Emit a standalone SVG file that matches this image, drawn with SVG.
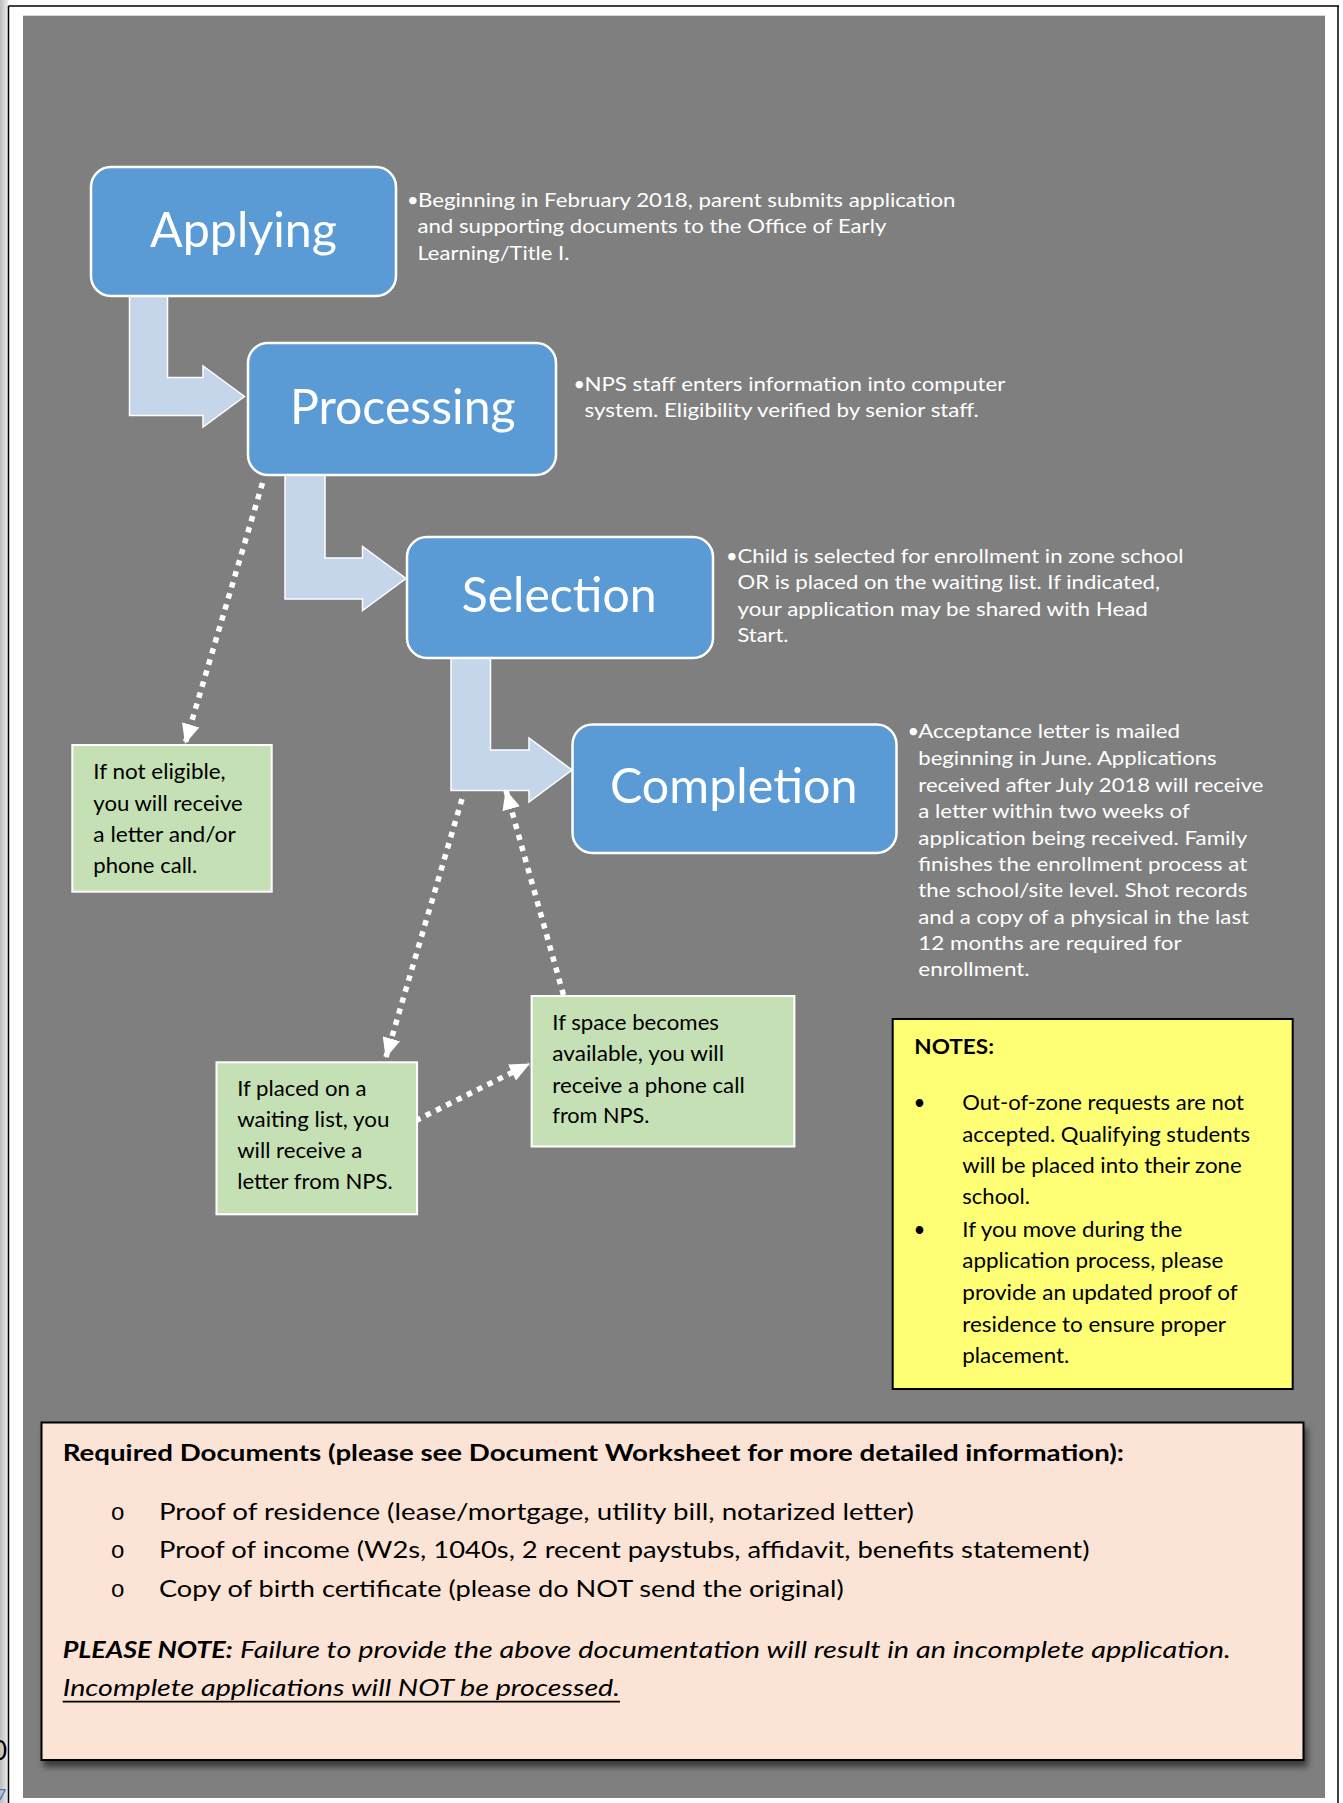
<svg xmlns="http://www.w3.org/2000/svg" width="1343" height="1803" viewBox="0 0 1343 1803">
<defs>
<style>
.t{font-family:Lato,"Liberation Sans",sans-serif}
.title{font-size:49px;fill:#fff}
.desc{font-size:20px;fill:#fff}
.small{font-size:20.5px;fill:#000}
.doc{font-size:23.5px;fill:#000}
.step{fill:#5B9BD5;stroke:#fff;stroke-width:2.5}
.barrow{fill:#C5D5EA;stroke:#fff;stroke-width:1.5}
.green{fill:#C5E0B4;stroke:#fff;stroke-width:2}
.dot{fill:none;stroke:#fff;stroke-width:5.5;stroke-dasharray:5.5 6;marker-end:url(#ah)}
</style>
<marker id="ah" markerUnits="userSpaceOnUse" viewBox="0 0 20 18" refX="19" refY="9" markerWidth="20" markerHeight="18" orient="auto">
<path d="M0,0 L20,9 L0,18 z" fill="#fff"/>
</marker>
<filter id="sh" x="-5%" y="-5%" width="110%" height="120%">
<feDropShadow dx="3" dy="6" stdDeviation="3" flood-color="#000" flood-opacity="0.55"/>
</filter>
<linearGradient id="edge" x1="0" x2="1" y1="0" y2="0">
<stop offset="0" stop-color="#bdbdbd"/>
<stop offset="1" stop-color="#ececec"/>
</linearGradient>
</defs>

<rect x="0" y="0" width="1343" height="1803" fill="#fff"/>
<rect x="0" y="0" width="8" height="1803" fill="url(#edge)"/>
<line x1="8.5" y1="6" x2="1339" y2="6" stroke="#000" stroke-width="1.5"/>
<line x1="8.5" y1="6" x2="8.5" y2="1803" stroke="#000" stroke-width="1.5"/>
<line x1="1338" y1="6" x2="1338" y2="1803" stroke="#000" stroke-width="1.5"/>
<rect x="23" y="15.7" width="1302" height="1782.3" fill="#7F7F7F"/>
<text class="t" x="-8" y="1760" font-size="26" fill="#000">0</text>
<text class="t" x="-3" y="1800" font-size="16" fill="#4472C4">7</text>

<g id="connectors">
<polygon class="barrow" points="129.5,292 167.5,292 167.5,377.5 203,377.5 203,366 244.5,396.5 203,427 203,415.5 129.5,415.5"/>
<polygon class="barrow" points="285,470 325,470 325,558 362.5,558 362.5,546.5 406,578.5 362.5,610.5 362.5,599 285,599"/>
<polygon class="barrow" points="451,654 490.5,654 490.5,750 529,750 529,738 572,770 529,802 529,790.5 451,790.5"/>
<line class="dot" x1="262.5" y1="483" x2="185.3" y2="743"/>
<line class="dot" x1="462" y1="799" x2="386" y2="1057"/>
<line class="dot" x1="563.5" y1="995" x2="506" y2="790.5"/>
<line class="dot" x1="415.5" y1="1120.7" x2="529" y2="1064"/>
</g>

<g id="applying">
<rect class="step" x="91" y="167" width="305" height="129" rx="20"/>
<text class="t title" x="150" y="246.7" textLength="187" lengthAdjust="spacingAndGlyphs">Applying</text>
<text class="t desc" x="407" y="206.7">•</text>
<text class="t desc" x="418" y="206.7" textLength="537.5" lengthAdjust="spacingAndGlyphs">Beginning in February 2018, parent submits application</text>
<text class="t desc" x="417.4" y="233.3" textLength="469" lengthAdjust="spacingAndGlyphs">and supporting documents to the Office of Early</text>
<text class="t desc" x="417.4" y="259.5" textLength="152" lengthAdjust="spacingAndGlyphs">Learning/Title I.</text>
</g>

<g id="processing">
<rect class="step" x="248" y="343" width="308" height="132" rx="20"/>
<text class="t title" x="290" y="424" textLength="225.6" lengthAdjust="spacingAndGlyphs">Processing</text>
<text class="t desc" x="573.5" y="390.7">•</text>
<text class="t desc" x="584.5" y="390.7" textLength="420.8" lengthAdjust="spacingAndGlyphs">NPS staff enters information into computer</text>
<text class="t desc" x="584.5" y="416.7" textLength="394.4" lengthAdjust="spacingAndGlyphs">system. Eligibility verified by senior staff.</text>
</g>

<g id="selection">
<rect class="step" x="407" y="537" width="306" height="121" rx="20"/>
<text class="t title" x="461.7" y="611.7" textLength="195" lengthAdjust="spacingAndGlyphs">Selection</text>
<text class="t desc" x="726" y="562.7">•</text>
<text class="t desc" x="737.5" y="562.7" textLength="446" lengthAdjust="spacingAndGlyphs">Child is selected for enrollment in zone school</text>
<text class="t desc" x="737.5" y="589.3" textLength="422.5" lengthAdjust="spacingAndGlyphs">OR is placed on the waiting list. If indicated,</text>
<text class="t desc" x="737.5" y="615.7" textLength="410.3" lengthAdjust="spacingAndGlyphs">your application may be shared with Head</text>
<text class="t desc" x="737.5" y="641.7" textLength="51" lengthAdjust="spacingAndGlyphs">Start.</text>
</g>

<g id="completion">
<rect class="step" x="572.5" y="724.5" width="324" height="128.5" rx="20"/>
<text class="t title" x="610" y="803.3" textLength="247.5" lengthAdjust="spacingAndGlyphs">Completion</text>
<text class="t desc" x="907.5" y="738.3">•</text>
<text class="t desc" x="918.3" y="738.3" textLength="261.7" lengthAdjust="spacingAndGlyphs">Acceptance letter is mailed</text>
<text class="t desc" x="918.3" y="765" textLength="298.4" lengthAdjust="spacingAndGlyphs">beginning in June. Applications</text>
<text class="t desc" x="918.3" y="791.7" textLength="345.1" lengthAdjust="spacingAndGlyphs">received after July 2018 will receive</text>
<text class="t desc" x="918.3" y="818.3" textLength="271.5" lengthAdjust="spacingAndGlyphs">a letter within two weeks of</text>
<text class="t desc" x="918.3" y="845" textLength="329" lengthAdjust="spacingAndGlyphs">application being received. Family</text>
<text class="t desc" x="918.3" y="871" textLength="329" lengthAdjust="spacingAndGlyphs">finishes the enrollment process at</text>
<text class="t desc" x="918.3" y="897.3" textLength="329" lengthAdjust="spacingAndGlyphs">the school/site level. Shot records</text>
<text class="t desc" x="918.3" y="924" textLength="330.7" lengthAdjust="spacingAndGlyphs">and a copy of a physical in the last</text>
<text class="t desc" x="918.3" y="950" textLength="263.4" lengthAdjust="spacingAndGlyphs">12 months are required for</text>
<text class="t desc" x="918.3" y="976" textLength="111.3" lengthAdjust="spacingAndGlyphs">enrollment.</text>
</g>

<g id="not-eligible">
<rect class="green" x="72.3" y="745" width="199.4" height="146.7"/>
<text class="t small" x="93.3" y="779.3" textLength="132.4" lengthAdjust="spacingAndGlyphs">If not eligible,</text>
<text class="t small" x="93.3" y="811" textLength="149.4" lengthAdjust="spacingAndGlyphs">you will receive</text>
<text class="t small" x="93.3" y="842" textLength="142.4" lengthAdjust="spacingAndGlyphs">a letter and/or</text>
<text class="t small" x="93.3" y="873.3" textLength="104" lengthAdjust="spacingAndGlyphs">phone call.</text>
</g>

<g id="waiting-list">
<rect class="green" x="216.5" y="1062.3" width="200.6" height="152"/>
<text class="t small" x="237.2" y="1096" textLength="129.4" lengthAdjust="spacingAndGlyphs">If placed on a</text>
<text class="t small" x="237.2" y="1127.3" textLength="152.2" lengthAdjust="spacingAndGlyphs">waiting list, you</text>
<text class="t small" x="237.2" y="1158.3" textLength="125.2" lengthAdjust="spacingAndGlyphs">will receive a</text>
<text class="t small" x="237.2" y="1189.3" textLength="155.5" lengthAdjust="spacingAndGlyphs">letter from NPS.</text>
</g>

<g id="space-available">
<rect class="green" x="531.6" y="996" width="262.8" height="150.5"/>
<text class="t small" x="552.3" y="1030" textLength="166.7" lengthAdjust="spacingAndGlyphs">If space becomes</text>
<text class="t small" x="552.3" y="1060.7" textLength="171.7" lengthAdjust="spacingAndGlyphs">available, you will</text>
<text class="t small" x="552.3" y="1092.7" textLength="192.4" lengthAdjust="spacingAndGlyphs">receive a phone call</text>
<text class="t small" x="552.3" y="1123.3" textLength="97" lengthAdjust="spacingAndGlyphs">from NPS.</text>
</g>

<g id="notes">
<rect x="892.7" y="1019" width="400" height="370" fill="#FFFF75" stroke="#000" stroke-width="2"/>
<text class="t small" x="914.3" y="1054.3" font-weight="bold" textLength="79.7" lengthAdjust="spacingAndGlyphs">NOTES:</text>
<text class="t small" x="913.5" y="1110">•</text>
<text class="t small" x="962.3" y="1110" textLength="281.7" lengthAdjust="spacingAndGlyphs">Out-of-zone requests are not</text>
<text class="t small" x="962.3" y="1141.7" textLength="287.7" lengthAdjust="spacingAndGlyphs">accepted. Qualifying students</text>
<text class="t small" x="962.3" y="1173.3" textLength="279.4" lengthAdjust="spacingAndGlyphs">will be placed into their zone</text>
<text class="t small" x="962.3" y="1204" textLength="67.7" lengthAdjust="spacingAndGlyphs">school.</text>
<text class="t small" x="913.5" y="1237.3">•</text>
<text class="t small" x="962.3" y="1237.3" textLength="220" lengthAdjust="spacingAndGlyphs">If you move during the</text>
<text class="t small" x="962.3" y="1268.3" textLength="261" lengthAdjust="spacingAndGlyphs">application process, please</text>
<text class="t small" x="962.3" y="1300" textLength="275.4" lengthAdjust="spacingAndGlyphs">provide an updated proof of</text>
<text class="t small" x="962.3" y="1331.7" textLength="263.7" lengthAdjust="spacingAndGlyphs">residence to ensure proper</text>
<text class="t small" x="962.3" y="1362.7" textLength="107" lengthAdjust="spacingAndGlyphs">placement.</text>
</g>

<g id="required-documents">
<rect x="41.5" y="1422.5" width="1262" height="337.5" fill="#FBE4D5" stroke="#000" stroke-width="2" filter="url(#sh)"/>
<text class="t doc" x="62.7" y="1460.7" font-weight="bold" textLength="1061.3" lengthAdjust="spacingAndGlyphs">Required Documents (please see Document Worksheet for more detailed information):</text>
<text x="110.5" y="1520" font-family="'Liberation Mono',monospace" font-size="24" fill="#000">o</text>
<text x="110.5" y="1558.3" font-family="'Liberation Mono',monospace" font-size="24" fill="#000">o</text>
<text x="110.5" y="1596.7" font-family="'Liberation Mono',monospace" font-size="24" fill="#000">o</text>
<text class="t doc" x="159" y="1520" textLength="755" lengthAdjust="spacingAndGlyphs">Proof of residence (lease/mortgage, utility bill, notarized letter)</text>
<text class="t doc" x="159" y="1558.3" textLength="930.5" lengthAdjust="spacingAndGlyphs">Proof of income (W2s, 1040s, 2 recent paystubs, affidavit, benefits statement)</text>
<text class="t doc" x="159" y="1596.7" textLength="684.7" lengthAdjust="spacingAndGlyphs">Copy of birth certificate (please do NOT send the original)</text>
<text class="t doc" x="62.7" y="1658.3" font-weight="bold" font-style="italic" textLength="170" lengthAdjust="spacingAndGlyphs">PLEASE NOTE:</text>
<text class="t doc" x="240" y="1658.3" font-style="italic" textLength="990.8" lengthAdjust="spacingAndGlyphs">Failure to provide the above documentation will result in an incomplete application.</text>
<text class="t doc" x="62.7" y="1696" font-style="italic" textLength="557.3" lengthAdjust="spacingAndGlyphs">Incomplete applications will NOT be processed.</text>
<line x1="62.7" y1="1701.7" x2="620" y2="1701.7" stroke="#000" stroke-width="1.8"/>
</g>
</svg>
